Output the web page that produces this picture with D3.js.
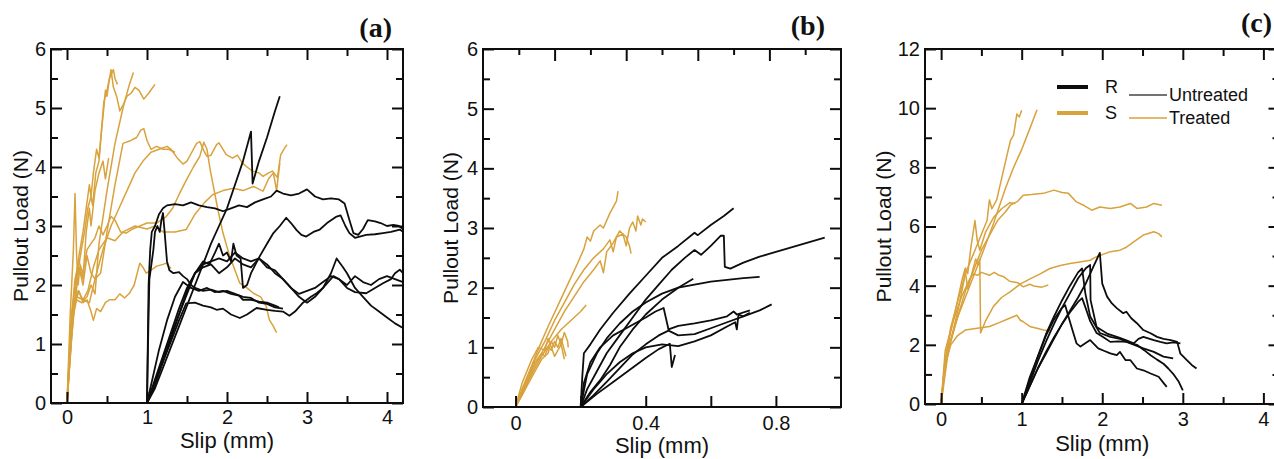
<!doctype html>
<html>
<head>
<meta charset="utf-8">
<script src="https://cdn.jsdelivr.net/npm/d3@7"></script>
<style>
  body { margin: 0; background: #fff; }
  text { font-family: "Liberation Sans", Arial, sans-serif; fill: #111; }
</style>
</head>
<body>
<script>
// ---------- data: slip (mm), pullout load (N) ----------
// panel (a): treated (gold) and untreated (black) curves
var aTreated = [
  [[0,0],[0.06,1.2],[0.12,2.1],[0.18,2.6],[0.22,2.9],[0.26,3.3],[0.3,3.5],[0.32,3.35],[0.36,3.9],[0.4,4.1],[0.43,4.6],[0.46,5.0],[0.48,5.3],[0.5,5.2],[0.52,5.4],[0.55,5.65],[0.58,5.35],[0.62,5.2],[0.66,4.95],[0.7,5.05],[0.75,5.2],[0.8,5.25],[0.85,5.35],[0.9,5.3],[0.96,5.15],[1.02,5.25],[1.1,5.4]],
  [[0,0],[0.05,1.3],[0.1,2.0],[0.15,2.5],[0.2,2.9],[0.25,3.4],[0.28,3.7],[0.3,3.5],[0.33,3.9],[0.37,4.3],[0.4,4.15],[0.43,4.6],[0.46,5.1],[0.5,5.3],[0.53,5.5],[0.58,5.65],[0.6,5.5],[0.63,5.4]],
  [[0,0],[0.08,1.5],[0.12,1.75],[0.18,1.7],[0.25,1.8],[0.3,2.0],[0.35,1.85],[0.4,2.7],[0.5,3.6],[0.6,4.4],[0.7,5.0],[0.78,5.4],[0.83,5.6]],
  [[0,0],[0.05,1.0],[0.1,1.7],[0.15,2.3],[0.2,2.0],[0.25,2.5],[0.3,2.2],[0.35,2.1],[0.42,2.2],[0.5,2.9],[0.6,3.7],[0.7,4.4],[0.8,4.45],[0.87,4.5],[0.92,4.62],[0.96,4.65],[1.0,4.45],[1.05,4.3],[1.12,4.35],[1.2,4.3],[1.27,4.3],[1.35,4.25]],
  [[0,0],[0.07,1.6],[0.12,1.8],[0.2,1.75],[0.28,1.7],[0.35,2.1],[0.45,2.6],[0.55,3.0],[0.65,3.3],[0.75,3.6],[0.85,3.9],[0.95,4.1],[1.05,4.25],[1.15,4.3],[1.25,4.35],[1.3,4.3],[1.38,4.15],[1.45,4.05],[1.5,4.1],[1.56,4.25],[1.62,4.4],[1.66,4.43],[1.72,4.25],[1.75,4.18],[1.8,4.2],[1.87,4.38],[1.9,4.41],[1.95,4.3],[1.99,4.21],[2.07,4.15],[2.13,4.2],[2.19,4.07],[2.25,4.0],[2.32,3.93],[2.4,3.9],[2.45,3.84],[2.52,3.9],[2.57,3.93],[2.63,3.82],[2.67,4.2],[2.71,4.3],[2.75,4.38]],
  [[0,0],[0.05,1.4],[0.1,2.1],[0.15,2.4],[0.2,2.2],[0.25,2.6],[0.3,2.7],[0.35,2.8],[0.4,3.0],[0.45,2.85],[0.5,3.0],[0.55,3.16],[0.6,3.1],[0.67,2.9],[0.74,2.88],[0.82,2.95],[0.91,3.0],[1.0,3.05],[1.12,3.05],[1.24,3.16],[1.32,3.3],[1.41,3.56],[1.5,3.8],[1.58,4.0],[1.66,4.18],[1.71,4.42],[1.75,4.3],[1.79,3.95],[1.83,3.67],[1.89,3.25],[1.95,2.88],[2.02,2.55],[2.08,2.32],[2.16,2.03],[2.25,1.95],[2.33,1.86],[2.42,1.8],[2.49,1.64],[2.53,1.41],[2.58,1.3],[2.62,1.19]],
  [[0,0],[0.08,1.7],[0.14,1.9],[0.2,1.75],[0.26,1.9],[0.33,2.3],[0.4,2.6],[0.5,2.8],[0.6,2.75],[0.7,2.9],[0.85,3.0],[1.0,2.95],[1.1,3.0],[1.2,2.9],[1.35,2.9],[1.49,2.94],[1.6,3.2],[1.72,3.4],[1.82,3.53],[1.95,3.6],[2.08,3.64],[2.2,3.6],[2.33,3.67],[2.45,3.59],[2.52,3.8],[2.58,3.9],[2.62,3.6],[2.66,4.07]],
  [[0,0],[0.05,1.2],[0.1,1.7],[0.15,1.9],[0.2,1.7],[0.25,1.75],[0.3,1.55],[0.33,1.4],[0.37,1.6],[0.42,1.55],[0.48,1.7],[0.53,1.75],[0.6,1.75],[0.66,1.85],[0.72,1.78],[0.78,1.86],[0.84,2.0],[0.91,2.37],[0.95,2.3],[0.99,2.2],[1.05,2.25],[1.12,2.32],[1.2,2.35],[1.24,2.37],[1.3,2.28]],
  [[0,0],[0.04,1.5],[0.08,2.6],[0.1,3.55],[0.12,2.5],[0.14,2.0],[0.16,2.3],[0.2,2.1],[0.24,2.9],[0.28,3.3],[0.3,3.0],[0.35,3.6],[0.4,3.9],[0.45,4.1],[0.48,3.8],[0.52,4.15]]
];
var aUntreated = [
  [[1.0,0],[1.01,0.8],[1.02,1.5],[1.03,2.1],[1.05,2.3],[1.08,2.6],[1.1,2.9],[1.13,3.0],[1.16,2.9],[1.18,3.1],[1.2,3.22],[1.22,2.9],[1.25,2.4],[1.28,2.25],[1.33,2.2],[1.4,2.22],[1.45,2.15],[1.5,2.1],[1.55,2.0],[1.6,1.95],[1.7,1.9],[1.8,1.92],[1.9,1.88],[2.0,1.9],[2.1,1.85],[2.2,1.8],[2.3,1.78],[2.4,1.7],[2.5,1.68],[2.6,1.62],[2.7,1.6]],
  [[1.0,0],[1.01,1.0],[1.02,2.0],[1.04,2.6],[1.06,2.9],[1.1,3.0],[1.15,3.2],[1.2,3.3],[1.25,3.35],[1.35,3.37],[1.45,3.35],[1.55,3.4],[1.65,3.35],[1.75,3.32],[1.85,3.3],[1.95,3.25],[2.05,3.3],[2.15,3.35],[2.25,3.32],[2.35,3.4],[2.45,3.45],[2.55,3.5],[2.62,3.6],[2.7,3.55],[2.8,3.52],[2.9,3.55],[3.0,3.62],[3.1,3.5],[3.2,3.45],[3.3,3.47],[3.4,3.45],[3.47,3.38],[3.53,3.1],[3.58,2.88],[3.64,2.85],[3.7,2.95],[3.76,3.1],[3.85,3.08],[3.92,3.05],[4.0,3.0],[4.08,3.02],[4.15,3.0],[4.2,2.95]],
  [[1.0,0],[1.1,0.25],[1.2,0.6],[1.3,0.95],[1.4,1.3],[1.5,1.65],[1.6,2.0],[1.7,2.35],[1.8,2.7],[1.9,3.0],[2.0,3.3],[2.1,3.7],[2.2,4.1],[2.27,4.45],[2.3,4.6],[2.32,3.72],[2.4,4.1],[2.5,4.5],[2.6,4.95],[2.66,5.2]],
  [[1.0,0],[1.1,0.3],[1.2,0.7],[1.3,1.1],[1.4,1.5],[1.5,1.85],[1.6,2.2],[1.7,2.4],[1.78,2.35],[1.85,2.55],[1.9,2.7],[1.95,2.5],[2.0,2.55],[2.05,2.4],[2.08,2.7],[2.12,2.5],[2.17,2.45],[2.2,1.95],[2.25,2.0],[2.3,2.2],[2.41,2.49],[2.5,2.7],[2.58,2.88],[2.66,3.0],[2.74,3.14],[2.8,3.05],[2.87,2.93],[2.93,2.85],[2.99,2.82],[3.08,2.9],[3.16,2.94],[3.25,3.05],[3.37,3.16],[3.42,3.18],[3.48,3.0],[3.53,2.88],[3.6,2.8],[3.74,2.85],[3.85,2.86],[3.95,2.88],[4.05,2.9],[4.16,2.94],[4.2,2.9]],
  [[1.0,0],[1.1,0.4],[1.2,0.8],[1.3,1.2],[1.4,1.6],[1.5,1.95],[1.6,2.2],[1.7,2.35],[1.8,2.4],[1.9,2.45],[2.0,2.4],[2.1,2.55],[2.2,2.45],[2.3,2.4],[2.4,2.45],[2.5,2.3],[2.6,2.25],[2.7,2.1],[2.8,1.95],[2.9,1.85],[3.0,1.9],[3.1,1.95],[3.2,2.05],[3.3,2.15],[3.4,2.1],[3.5,2.0],[3.6,2.15],[3.7,2.05],[3.8,2.0],[3.9,2.1],[4.0,2.15],[4.1,2.1],[4.2,2.05]],
  [[1.0,0],[1.1,0.35],[1.2,0.75],[1.3,1.15],[1.4,1.5],[1.5,1.9],[1.6,2.2],[1.7,2.3],[1.8,2.35],[1.9,2.2],[2.0,2.3],[2.1,2.45],[2.2,2.35],[2.3,2.3],[2.4,2.45],[2.5,2.35],[2.6,2.2],[2.7,2.1],[2.8,1.95],[2.9,1.8],[3.0,1.7],[3.1,1.8],[3.2,1.95],[3.3,2.2],[3.37,2.45],[3.45,2.3],[3.5,2.2],[3.6,1.95],[3.7,1.8],[3.8,1.65],[3.9,1.55],[4.0,1.45],[4.1,1.35],[4.2,1.27]],
  [[1.0,0],[1.1,0.35],[1.2,0.7],[1.3,1.05],[1.4,1.4],[1.49,1.69],[1.6,1.7],[1.7,1.65],[1.8,1.62],[1.87,1.58],[1.95,1.6],[2.05,1.5],[2.16,1.44],[2.25,1.5],[2.37,1.61],[2.5,1.58],[2.6,1.56],[2.7,1.55],[2.78,1.48],[2.85,1.55],[2.95,1.7],[3.05,1.8],[3.12,1.86],[3.2,1.95],[3.33,2.15],[3.4,2.1],[3.5,1.95],[3.6,1.88],[3.74,1.86],[3.85,1.95],[3.95,2.03],[4.05,2.1],[4.1,2.2],[4.16,2.26],[4.2,2.2]],
  [[1.0,0],[1.05,0.3],[1.15,0.9],[1.25,1.4],[1.35,1.8],[1.45,2.05],[1.55,1.95],[1.65,1.9],[1.75,1.95],[1.85,1.88],[1.95,1.9],[2.05,1.85],[2.15,1.82],[2.2,1.75],[2.3,1.75],[2.4,1.72],[2.5,1.7],[2.6,1.65],[2.65,1.62]]
];

// panel (b)
var bTreated = [
  [[0,0],[0.02,0.3],[0.05,0.7],[0.08,1.1],[0.1,1.35],[0.13,1.7],[0.16,2.05],[0.19,2.4],[0.21,2.65],[0.22,2.85],[0.23,2.78],[0.24,2.95],[0.26,3.05],[0.27,3.0],[0.29,3.25],[0.31,3.45],[0.315,3.62]],
  [[0,0],[0.03,0.4],[0.06,0.8],[0.09,1.1],[0.12,1.45],[0.15,1.75],[0.18,2.05],[0.21,2.3],[0.24,2.5],[0.27,2.65],[0.29,2.8],[0.3,2.6],[0.31,2.85],[0.33,2.9],[0.34,2.7],[0.35,3.0],[0.36,3.1],[0.37,2.95],[0.375,3.2],[0.385,3.05],[0.39,3.15],[0.4,3.1]],
  [[0,0],[0.03,0.35],[0.06,0.7],[0.09,1.0],[0.12,1.3],[0.15,1.6],[0.18,1.85],[0.21,2.1],[0.24,2.3],[0.26,2.45],[0.27,2.25],[0.28,2.6],[0.3,2.75],[0.32,2.95],[0.34,2.85],[0.35,2.7],[0.355,2.57]],
  [[0,0],[0.02,0.2],[0.05,0.55],[0.08,0.85],[0.11,1.1],[0.14,1.3],[0.17,1.45],[0.2,1.6],[0.217,1.71]],
  [[0,0],[0.02,0.25],[0.04,0.5],[0.06,0.75],[0.08,0.9],[0.09,0.85],[0.1,1.0],[0.11,0.95],[0.12,1.1],[0.13,1.0],[0.14,1.15],[0.15,0.95],[0.155,0.85]],
  [[0,0],[0.03,0.3],[0.06,0.6],[0.08,0.8],[0.1,0.9],[0.11,1.1],[0.12,1.0],[0.13,1.2],[0.14,1.05],[0.15,1.25],[0.16,1.1],[0.162,1.0]],
  [[0,0],[0.02,0.4],[0.05,0.8],[0.07,1.0],[0.09,0.95],[0.1,1.15],[0.12,0.85],[0.14,1.05],[0.15,0.8]]
];
var bUntreated = [
  [[0.2,0],[0.205,0.5],[0.21,0.9],[0.23,1.05],[0.26,1.3],[0.3,1.58],[0.35,1.9],[0.4,2.2],[0.45,2.5],[0.5,2.7],[0.55,2.92],[0.56,2.88],[0.6,3.05],[0.64,3.2],[0.67,3.33]],
  [[0.2,0],[0.22,0.3],[0.25,0.6],[0.28,0.9],[0.32,1.2],[0.36,1.5],[0.4,1.8],[0.44,2.05],[0.48,2.3],[0.52,2.5],[0.55,2.63],[0.57,2.55],[0.6,2.7],[0.63,2.87],[0.64,2.87],[0.643,2.35],[0.66,2.32],[0.7,2.42],[0.75,2.52],[0.8,2.6],[0.85,2.68],[0.9,2.76],[0.95,2.84]],
  [[0.2,0],[0.22,0.55],[0.25,0.9],[0.28,1.15],[0.32,1.4],[0.36,1.6],[0.4,1.75],[0.45,1.9],[0.5,2.0],[0.55,2.05],[0.6,2.1],[0.65,2.13],[0.7,2.16],[0.75,2.18]],
  [[0.2,0],[0.23,0.25],[0.26,0.45],[0.29,0.7],[0.32,1.0],[0.36,1.3],[0.4,1.55],[0.45,1.8],[0.5,2.0],[0.546,2.15]],
  [[0.2,0],[0.21,0.4],[0.23,0.75],[0.26,1.0],[0.3,1.2],[0.35,1.35],[0.4,1.5],[0.43,1.6],[0.455,1.66],[0.47,1.3],[0.5,1.36],[0.55,1.4],[0.6,1.45],[0.65,1.52],[0.67,1.6],[0.68,1.55],[0.72,1.62]],
  [[0.2,0],[0.24,0.2],[0.28,0.42],[0.32,0.65],[0.36,0.88],[0.4,1.05],[0.44,1.2],[0.47,1.28],[0.5,1.2],[0.55,1.22],[0.6,1.32],[0.65,1.42],[0.7,1.52],[0.75,1.62],[0.787,1.72]],
  [[0.2,0],[0.25,0.22],[0.3,0.42],[0.35,0.62],[0.4,0.82],[0.44,0.97],[0.474,1.06],[0.48,0.67],[0.49,0.87]],
  [[0.2,0],[0.24,0.3],[0.28,0.55],[0.32,0.75],[0.36,0.9],[0.4,1.0],[0.45,1.05],[0.5,1.02],[0.55,1.1],[0.6,1.2],[0.65,1.35],[0.675,1.42],[0.68,1.3],[0.685,1.55],[0.7,1.52],[0.72,1.58]]
];

// panel (c)
var cTreated = [
  [[0,0],[0.02,0.4],[0.09,1.8],[0.22,3.3],[0.3,4.4],[0.42,5.2],[0.57,6.2],[0.6,6.9],[0.63,6.6],[0.69,6.9],[0.8,8.2],[0.86,8.9],[0.9,9.1],[0.94,9.8],[0.97,9.7],[1.0,9.93]],
  [[0,0],[0.04,1.2],[0.1,2.0],[0.2,2.9],[0.3,3.6],[0.4,4.3],[0.5,5.0],[0.65,6.1],[0.8,7.3],[0.9,8.0],[1.0,8.6],[1.1,9.3],[1.19,9.95]],
  [[0,0],[0.05,1.4],[0.1,1.9],[0.2,2.9],[0.3,3.8],[0.4,4.5],[0.5,5.2],[0.6,5.7],[0.7,6.2],[0.8,6.5],[0.86,6.72],[0.95,6.85],[1.02,7.06],[1.12,7.08],[1.27,7.12],[1.4,7.23],[1.5,7.15],[1.58,7.12],[1.68,6.83],[1.78,6.7],[1.87,6.55],[1.97,6.66],[2.1,6.61],[2.22,6.66],[2.35,6.78],[2.43,6.61],[2.55,6.66],[2.64,6.78],[2.74,6.72]],
  [[0,0],[0.05,1.5],[0.12,2.6],[0.2,3.4],[0.28,4.2],[0.3,4.5],[0.33,3.9],[0.38,4.4],[0.43,4.9],[0.46,4.7],[0.48,4.9],[0.49,2.4],[0.55,2.8],[0.65,3.3],[0.75,3.6],[0.86,3.8],[0.98,4.05],[1.11,4.24],[1.23,4.4],[1.35,4.58],[1.48,4.68],[1.6,4.75],[1.72,4.8],[1.85,4.86],[1.93,4.98],[2.1,5.15],[2.22,5.2],[2.3,5.3],[2.39,5.48],[2.51,5.71],[2.64,5.82],[2.7,5.76],[2.74,5.65]],
  [[0,0],[0.05,1.8],[0.15,2.8],[0.25,3.6],[0.35,4.2],[0.4,4.4],[0.45,4.35],[0.5,4.45],[0.6,4.35],[0.66,4.45],[0.72,4.35],[0.78,4.3],[0.85,4.15],[0.95,4.1],[1.02,3.96],[1.1,4.05],[1.15,3.99],[1.25,3.95],[1.33,4.02]],
  [[0,0],[0.05,1.3],[0.12,2.0],[0.2,2.3],[0.3,2.5],[0.45,2.56],[0.6,2.62],[0.72,2.75],[0.85,2.9],[0.94,3.0],[0.98,2.84],[1.02,2.78],[1.11,2.61],[1.19,2.56],[1.27,2.5],[1.36,2.48]],
  [[0,0],[0.04,1.2],[0.1,2.2],[0.18,3.2],[0.26,4.2],[0.3,4.6],[0.33,4.4],[0.37,5.3],[0.42,6.2],[0.45,5.5],[0.48,5.2],[0.55,5.8],[0.65,6.3],[0.75,6.6],[0.85,6.8],[0.92,6.78]]
];
var cUntreated = [
  [[1.0,0],[1.1,0.9],[1.2,1.6],[1.3,2.3],[1.4,2.85],[1.5,3.25],[1.54,3.34],[1.58,2.96],[1.63,2.5],[1.68,2.05],[1.73,1.94],[1.79,2.05],[1.85,2.16],[1.95,1.88],[2.02,1.8],[2.1,1.71],[2.18,1.65],[2.22,1.76],[2.29,1.48],[2.35,1.48],[2.43,1.2],[2.51,1.14],[2.6,1.03],[2.7,0.92],[2.75,0.75],[2.8,0.58]],
  [[1.0,0],[1.1,0.8],[1.2,1.6],[1.3,2.35],[1.4,2.95],[1.5,3.5],[1.6,4.0],[1.7,4.45],[1.75,4.58],[1.79,3.74],[1.85,2.96],[1.97,2.4],[2.1,2.27],[2.22,2.2],[2.35,2.05],[2.51,1.88],[2.64,1.76],[2.76,1.6],[2.88,1.54]],
  [[1.0,0],[1.1,0.7],[1.2,1.45],[1.3,2.1],[1.4,2.7],[1.5,3.25],[1.6,3.75],[1.7,4.25],[1.8,4.6],[1.85,4.7],[1.855,3.51],[1.93,2.6],[2.06,2.38],[2.2,2.25],[2.3,2.15],[2.39,2.05],[2.45,2.2],[2.51,2.27],[2.64,2.16],[2.72,2.1],[2.8,2.05],[2.88,2.08],[2.97,2.05]],
  [[1.0,0],[1.1,0.6],[1.2,1.2],[1.3,1.75],[1.4,2.25],[1.5,2.7],[1.6,3.1],[1.7,3.45],[1.75,3.58],[1.8,3.2],[1.85,2.8],[1.93,2.4],[2.02,2.25],[2.1,2.1],[2.2,2.12],[2.3,2.1],[2.43,2.0],[2.52,1.82],[2.6,1.65],[2.68,1.5],[2.76,1.36],[2.82,1.2],[2.88,1.02],[2.95,0.75],[3.0,0.46]],
  [[1.0,0],[1.1,0.6],[1.2,1.2],[1.3,1.7],[1.4,2.2],[1.5,2.7],[1.6,3.15],[1.7,3.6],[1.8,4.1],[1.9,4.7],[1.97,5.11],[2.0,4.07],[2.06,3.63],[2.12,3.4],[2.18,3.24],[2.26,3.07],[2.3,3.12],[2.36,2.9],[2.43,2.73],[2.51,2.5],[2.6,2.39],[2.68,2.27],[2.76,2.2],[2.85,2.16],[2.93,2.1],[2.97,1.7],[3.05,1.48],[3.11,1.32],[3.17,1.2]]
];

// ---------- axis ticks ----------
var aXMajor = [0, 1, 2, 3, 4];
var aXMinor = [0.5, 1.5, 2.5, 3.5];
var aYMajor = [0, 1, 2, 3, 4, 5, 6];
var aYMinor = [0.5, 1.5, 2.5, 3.5, 4.5, 5.5];
var bXMajor = [0, 0.4, 0.8];
var bXMinor = [0.2, 0.6];
var bTopMajor = [1, 2, 3, 4];
var bTopMinor = [0.5, 1.5, 2.5, 3.5, 4.5];
var cXMajor = [0, 1, 2, 3, 4];
var cXMinor = [0.5, 1.5, 2.5, 3.5];
var cYMajor = [0, 2, 4, 6, 8, 10, 12];
var cYMinor = [1, 3, 5, 7, 9, 11];

var legendSymbols = ["R", "S"];
var legendNames = ["Untreated", "Treated"];

var gold = "#d8a23c";
var ink = "#0d0d0d";

var svg = d3.select("body").append("svg")
  .attr("width", 1274)
  .attr("height", 459);

var panels = [
  { tag: "(a)", xDomain: [-0.2, 4.2], yDomain: [0, 6], box: [51, 403, 49, 403],
    xMajor: aXMajor, xMinor: aXMinor, yMajor: aYMajor, yMinor: aYMinor,
    fmt: d3.format("d"), treated: aTreated, untreated: aUntreated,
    xPad: 7, yTitleX: 20.5, xTitleY: 448, tagPos: [392, 37] },
  { tag: "(b)", xDomain: [-0.1, 1.0], yDomain: [0, 6], box: [483, 841, 49, 407],
    xMajor: bXMajor, xMinor: bXMinor, yMajor: aYMajor, yMinor: aYMinor,
    topMajor: bTopMajor, topMinor: bTopMinor, topDomain: [0, 5],
    fmt: function(d) { return d === 0 ? "0" : d3.format(".1f")(d); },
    treated: bTreated, untreated: bUntreated, minorLong: true,
    xPad: 9, yTitleX: 451, xTitleY: 453, tagPos: [825, 35] },
  { tag: "(c)", xDomain: [-0.2, 4.2], yDomain: [0, 12], box: [925, 1279.5, 49, 404],
    xMajor: cXMajor, xMinor: cXMinor, yMajor: cYMajor, yMinor: cYMinor,
    fmt: d3.format("d"), treated: cTreated, untreated: cUntreated,
    xPad: 8, yTitleX: 883.5, xTitleY: 451, tagPos: [1272, 32], legend: true }
];

var MAJ = 11, MIN = 7;

panels.forEach(function(p) {
  var x0 = p.box[0], x1 = p.box[1], y0 = p.box[2], y1 = p.box[3];
  var x = d3.scaleLinear().domain(p.xDomain).range([x0, x1]);
  var y = d3.scaleLinear().domain(p.yDomain).range([y1, y0]);
  var g = svg.append("g");

  // curves: treated (gold) first, untreated (black) on top
  var line = d3.line().x(function(d) { return x(d[0]); }).y(function(d) { return y(d[1]); });
  g.append("g").selectAll("path").data(p.treated).enter().append("path")
    .attr("d", line).attr("fill", "none").attr("stroke", gold)
    .attr("stroke-width", 1.5).attr("stroke-linejoin", "round");
  g.append("g").selectAll("path").data(p.untreated).enter().append("path")
    .attr("d", line).attr("fill", "none").attr("stroke", ink)
    .attr("stroke-width", 1.8).attr("stroke-linejoin", "round");

  // axes: inward ticks on all four sides
  function axis(gen, sc, vals, len, tx, ty, fmt, pad) {
    var a = gen(sc).tickValues(vals).tickSize(-len).tickPadding(pad || 5)
      .tickFormat(fmt || "");
    var ag = g.append("g").attr("transform", "translate(" + tx + "," + ty + ")").call(a);
    ag.select(".domain").remove();
    ag.selectAll(".tick line").attr("stroke", ink).attr("stroke-width", 2);
    ag.selectAll("text").style("font-size", "20px").attr("fill", "#111");
    return ag;
  }
  axis(d3.axisBottom, x, p.xMajor, MAJ, 0, y1, p.fmt, p.xPad);
  axis(d3.axisBottom, x, p.xMinor, p.minorLong ? MAJ : MIN, 0, y1);
  axis(d3.axisLeft, y, p.yMajor, MAJ, x0, 0, d3.format("d"), 5);
  axis(d3.axisLeft, y, p.yMinor, MIN, x0, 0);
  axis(d3.axisRight, y, p.yMajor, MAJ, x1, 0);
  axis(d3.axisRight, y, p.yMinor, MIN, x1, 0);
  if (p.topMajor) {
    var xt = d3.scaleLinear().domain(p.topDomain).range([x0, x1]);
    axis(d3.axisTop, xt, p.topMajor, MAJ + 1, 0, y0);
    axis(d3.axisTop, xt, p.topMinor, MIN - 1, 0, y0);
  } else {
    axis(d3.axisTop, x, p.xMajor, MAJ, 0, y0);
    axis(d3.axisTop, x, p.xMinor, MIN, 0, y0);
  }

  // frame
  g.append("rect").attr("x", x0).attr("y", y0)
    .attr("width", x1 - x0).attr("height", y1 - y0)
    .attr("fill", "none").attr("stroke", ink).attr("stroke-width", 2);

  // titles
  g.append("text").attr("x", (x0 + x1) / 2).attr("y", p.xTitleY)
    .attr("text-anchor", "middle").style("font-size", "22px").text("Slip (mm)");
  g.append("text")
    .attr("transform", "translate(" + p.yTitleX + "," + ((y0 + y1) / 2) + ") rotate(-90)")
    .attr("text-anchor", "middle").attr("dy", "0.35em")
    .style("font-size", "21px").text("Pullout Load (N)");
  g.append("text").attr("x", p.tagPos[0]).attr("y", p.tagPos[1])
    .attr("text-anchor", "end")
    .style("font-family", "'Liberation Serif', 'Times New Roman', serif")
    .style("font-weight", "bold").style("font-size", "28px").text(p.tag);

  if (p.legend) {
    var lg = g.append("g");
    var rows = [ink, gold];
    rows.forEach(function(col, i) {
      var ry = 87 + i * 26;
      lg.append("line").attr("x1", 1057).attr("x2", 1088).attr("y1", ry).attr("y2", ry)
        .attr("stroke", col).attr("stroke-width", 4);
      lg.append("text").attr("x", 1105).attr("y", ry).attr("dy", "0.35em")
        .style("font-size", "18px").text(legendSymbols[i]);
      var ny = 95 + i * 23;
      lg.append("line").attr("x1", 1129).attr("x2", 1167).attr("y1", ny).attr("y2", ny)
        .attr("stroke", i === 0 ? "#444" : gold).attr("stroke-width", 1.4);
      lg.append("text").attr("x", 1169).attr("y", ny).attr("dy", "0.35em")
        .style("font-size", "18px").text(legendNames[i]);
    });
  }
});
</script>
</body>
</html>
